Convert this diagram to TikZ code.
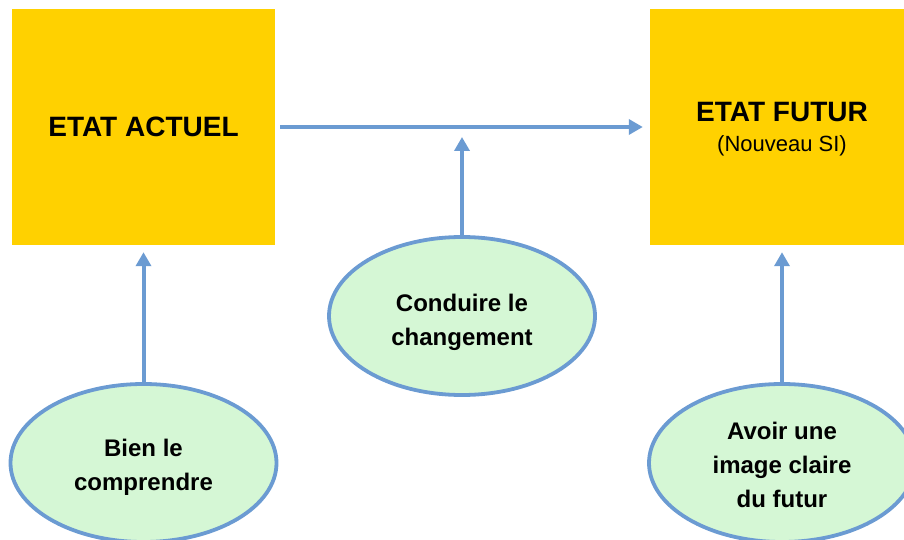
\documentclass[tikz,border=0pt]{standalone}
\usepackage{fontspec}
\setmainfont{Liberation Sans}
\usetikzlibrary{shapes.geometric,arrows.meta}
\definecolor{boxyellow}{HTML}{FFD100}
\definecolor{lineblue}{HTML}{6B9BD2}
\definecolor{ovalgreen}{HTML}{D5F7D5}
\tikzset{
  statebox/.style={fill=boxyellow, draw=none, minimum width=263pt, minimum height=236pt, inner sep=0pt},
  oval/.style={ellipse, draw=lineblue, line width=3.8pt, fill=ovalgreen, minimum width=266pt, minimum height=158pt, inner sep=0pt},
  ovaltext/.style={align=center, font=\fontsize{24}{34}\selectfont\bfseries, inner sep=0pt},
  titletext/.style={font=\fontsize{28}{34}\selectfont\bfseries, inner sep=0pt},
  subtext/.style={font=\fontsize{22}{28}\selectfont, inner sep=0pt},
  conn/.style={draw=lineblue, line width=4pt, -{Triangle[length=14pt,width=15pt]}}
}
\begin{document}
\begin{tikzpicture}[x=1pt,y=-1pt]
\useasboundingbox (0,0) rectangle (904,540);
\clip (0,0) rectangle (904,540);
\node[statebox, titletext] (la) at (143.5,127) {ETAT ACTUEL};
\node[statebox] (ra) at (781.5,127) {};
\node[titletext, anchor=base] (ratitle) at (782,122) {ETAT FUTUR};
\node[subtext, anchor=base] (rasub) at (782,152) {(Nouveau SI)};

\node[oval] (mid) at (462,316) {};
\node[ovaltext] (midtxt) at (462,322) {Conduire le\\changement};
\node[oval] (le) at (143.5,463) {};
\node[ovaltext] (letxt) at (143.5,467) {Bien le\\comprendre};
\node[oval] (re) at (782,463) {};
\node[ovaltext] (retxt) at (782,465) {Avoir une\\image claire\\du futur};

\draw[conn, shorten <=5pt, shorten >=7pt] (la.east) -- (ra.west);
\draw[conn, shorten >=10pt] (mid.north) -- (mid.north |- la.east);
\draw[conn, shorten >=7pt] (le.north) -- (le.north |- la.south);
\draw[conn, shorten >=7pt] (re.north) -- (re.north |- ra.south);
\end{tikzpicture}
\end{document}
